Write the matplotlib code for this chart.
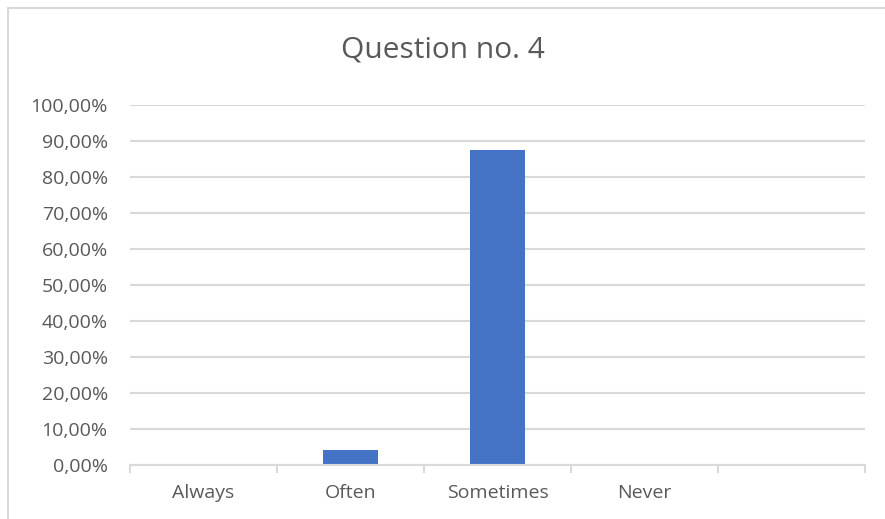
import numpy as np
import matplotlib.pyplot as plt
from matplotlib.patches import Rectangle
from matplotlib.ticker import FuncFormatter

categories = ['Always', 'Often', 'Sometimes', 'Never', '']
values = [0.0, 4.17, 87.5, 0.0, 0.0]
y_ticks = [0, 10, 20, 30, 40, 50, 60, 70, 80, 90, 100]

plt.rcParams['font.family'] = ['Open Sans', 'DejaVu Sans']
grey_text = '#595959'
grey_line = '#d9d9d9'

fig = plt.figure(figsize=(8.85, 5.19), dpi=100)
fig.patch.set_facecolor('white')
# chart border (runs off the picture on the right and bottom)
fig.patches.append(Rectangle((8 / 885, -0.1), 1.1, 1 - 8 / 519 + 0.1,
                             transform=fig.transFigure, fill=False,
                             edgecolor=grey_line, linewidth=1.5))

ax = fig.add_axes([130 / 885, 1 - 465 / 519, (865 - 130) / 885, (465 - 105) / 519])
x = np.arange(len(categories))
ax.bar(x, values, width=0.37, color='#4472C4', zorder=3)

ax.set_xlim(-0.5, len(categories) - 0.5)
ax.set_ylim(0, 100)
ax.set_yticks(y_ticks)
ax.yaxis.set_major_formatter(FuncFormatter(lambda v, p: f'{v:.2f}%'.replace('.', ',')))
ax.grid(axis='y', color=grey_line, linewidth=1.5, zorder=0)

ax.set_xticks(x)
ax.set_xticklabels(categories)
ax.set_xticks(np.arange(len(categories) + 1) - 0.5, minor=True)
ax.tick_params(axis='x', which='major', length=0, pad=14, labelsize=14, colors=grey_text)
ax.tick_params(axis='x', which='minor', length=6, width=1.5, color=grey_line)
ax.tick_params(axis='y', length=0, pad=16, labelsize=14, colors=grey_text)

for s in ['top', 'right', 'left']:
    ax.spines[s].set_visible(False)
ax.spines['bottom'].set_color(grey_line)
ax.spines['bottom'].set_linewidth(1.5)
ax.spines['bottom'].set_zorder(4)

fig.text(0.5, 1 - 50 / 519, 'Question no. 4', ha='center', va='center',
         fontsize=21.5, color=grey_text)

plt.savefig('out.png', dpi=100)
